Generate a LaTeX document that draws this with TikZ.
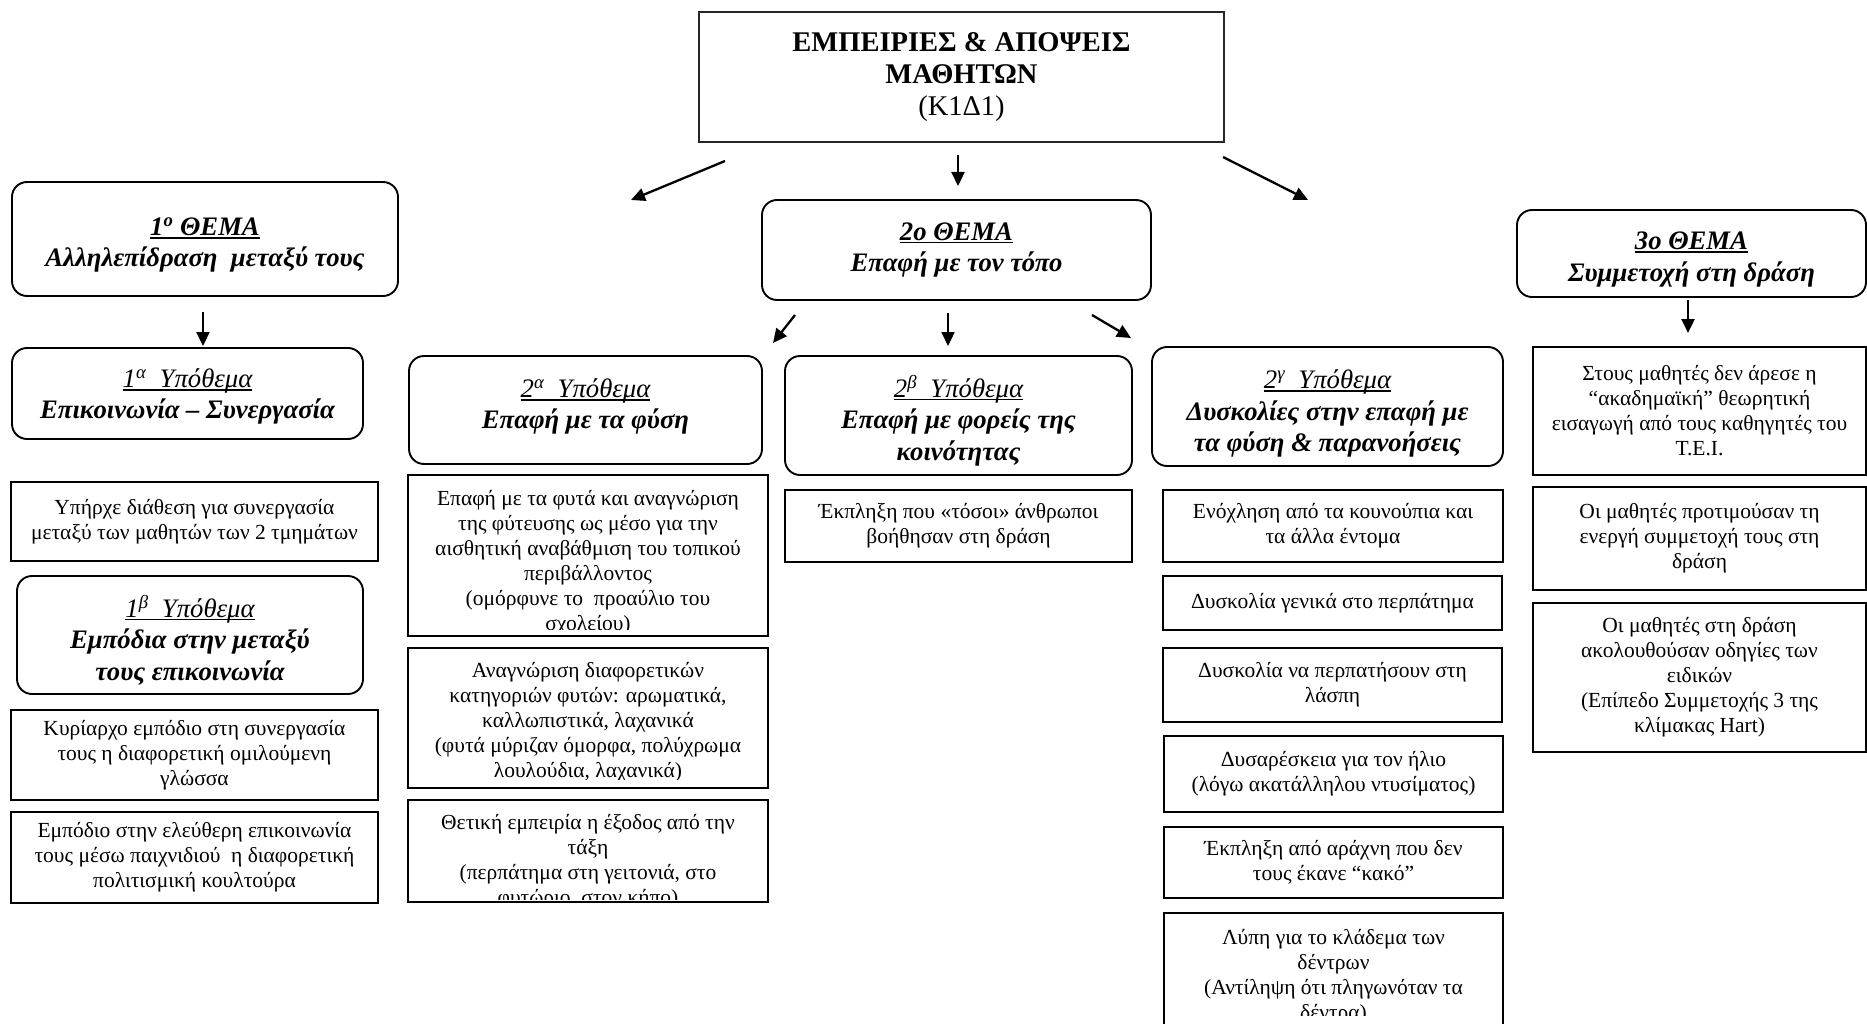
\documentclass[tikz,border=0pt]{standalone}
\usepackage{fontspec}
\setmainfont{Liberation Serif}
\usetikzlibrary{arrows.meta}

% font sizes for box texts and headings
\newcommand{\bodyfont}{\fontsize{21.5pt}{25pt}\selectfont}
\newcommand{\headfont}{\fontsize{26.7pt}{31.5pt}\selectfont}
\newcommand{\titlefont}{\fontsize{28.5pt}{32pt}\selectfont}
% heavier underline for headings
\newcommand{\hdul}[1]{\leavevmode\setbox0=\hbox{#1}\rlap{\rule[-0.12em]{\wd0}{0.065em}}\box0}

\tikzset{
  tbox/.style={draw, line width=1.9pt, rectangle, inner sep=0pt, align=center, font=\bodyfont},
  rbox/.style={draw, line width=1.9pt, rounded corners=15pt, inner sep=0pt},
  hdtext/.style={inner sep=0pt, align=center, font=\headfont\bfseries\itshape},
  txt/.style={inner sep=0pt, align=center, font=\bodyfont},
  arr/.style={line width=2.3pt, -{Triangle[length=14pt,width=13pt]}},
}

\begin{document}
\begin{tikzpicture}[x=1pt, y=-1pt]
\useasboundingbox (0,0) rectangle (1867,1024);
\clip (0,0) rectangle (1867,1024);

% ---- title ----
\node[draw, line width=1.5pt, black!85, text=black, inner sep=0pt, align=center, font=\titlefont,
      minimum width=525, minimum height=130] (top) at (961.5,77)
  {\textbf{ΕΜΠΕΙΡΙΕΣ \& ΑΠΟΨΕΙΣ}\\\textbf{ΜΑΘΗΤΩΝ}\\(Κ1Δ1)};

% ---- themes ----
\node[rbox, minimum width=386, minimum height=114,
      label={[name=th1t, hdtext, yshift=-6pt]center:{\hdul{1\textsuperscript{ο} ΘΕΜΑ}\\Αλληλεπίδραση\ \ μεταξύ τους}}]
  (th1) at (205,239) {};
\node[rbox, minimum width=389, minimum height=100,
      label={[name=th2t, hdtext, yshift=0pt]center:{\hdul{2ο ΘΕΜΑ}\\Επαφή με τον τόπο}}]
  (th2) at (956.5,250) {};
\node[rbox, minimum width=349, minimum height=87,
      label={[name=th3t, hdtext, yshift=-6pt]center:{\hdul{3ο ΘΕΜΑ}\\Συμμετοχή στη δράση}}]
  (th3) at (1691.5,253.5) {};

% ---- sub-themes ----
\node[rbox, minimum width=351, minimum height=91,
      label={[name=s1at, hdtext, yshift=-3pt]center:{{\mdseries\hdul{1\textsuperscript{α}\ \ Υπόθεμα}}\\Επικοινωνία – Συνεργασία}}]
  (s1a) at (187.5,393.5) {};
\node[rbox, minimum width=346, minimum height=118,
      label={[name=s1bt, hdtext, yshift=-5pt]center:{{\mdseries\hdul{1\textsuperscript{β}\ \ Υπόθεμα}}\\Εμπόδια στην μεταξύ\\τους επικοινωνία}}]
  (s1b) at (190,635) {};
\node[rbox, minimum width=353, minimum height=108,
      label={[name=s2at, hdtext, yshift=3.5pt]center:{{\mdseries\hdul{2\textsuperscript{α}\ \ Υπόθεμα}}\\Επαφή με τα φύση}}]
  (s2a) at (585.5,410) {};
\node[rbox, minimum width=347, minimum height=119,
      label={[name=s2bt, hdtext, yshift=-5pt]center:{{\mdseries\hdul{2\textsuperscript{β}\ \ Υπόθεμα}}\\Επαφή με φορείς της\\κοινότητας}}]
  (s2b) at (958.5,415.5) {};
\node[rbox, minimum width=351, minimum height=119,
      label={[name=s2gt, hdtext, yshift=-7pt]center:{{\mdseries\hdul{2\textsuperscript{γ}\ \ Υπόθεμα}}\\Δυσκολίες στην επαφή με\\τα φύση \& παρανοήσεις}}]
  (s2g) at (1327.5,406.5) {};

% ---- column 1 ----
\node[tbox, minimum width=367, minimum height=79] (a1) at (194.5,521.5)
  {Υπήρχε διάθεση για συνεργασία\\μεταξύ των μαθητών των 2 τμημάτων};
\node[tbox, minimum width=367, minimum height=90] (a2) at (194.5,755)
  {Κυρίαρχο εμπόδιο στη συνεργασία\\τους η διαφορετική ομιλούμενη\\γλώσσα};
\node[tbox, minimum width=367, minimum height=91] (a3) at (194.5,857.5)
  {Εμπόδιο στην ελεύθερη επικοινωνία\\τους μέσω παιχνιδιού\ \ η διαφορετική\\πολιτισμική κουλτούρα};

% ---- column 2 (texts cut off by their frames) ----
\node[tbox, minimum width=360, minimum height=161] (b1) at (588,555.5) {};
\begin{scope}
  \clip (408,475) rectangle (768,629);
  \node[txt, anchor=north] (b1t) at (588,490)
    {Επαφή με τα φυτά και αναγνώριση\\της φύτευσης ως μέσο για την\\αισθητική αναβάθμιση του τοπικού\\περιβάλλοντος\\(ομόρφυνε το\ \ προαύλιο του\\σχολείου)};
\end{scope}
\node[tbox, minimum width=360, minimum height=140] (b2) at (588,718) {};
\begin{scope}
  \clip (408,648) rectangle (768,779);
  \node[txt, anchor=north] (b2t) at (588,662)
    {Αναγνώριση διαφορετικών\\κατηγοριών φυτών: αρωματικά,\\καλλωπιστικά, λαχανικά\\(φυτά μύριζαν όμορφα, πολύχρωμα\\λουλούδια, λαχανικά)};
\end{scope}
\node[tbox, minimum width=360, minimum height=102] (b3) at (588,851) {};
\begin{scope}
  \clip (408,800) rectangle (768,899);
  \node[txt, anchor=north] (b3t) at (588,814)
    {Θετική εμπειρία η έξοδος από την\\τάξη\\(περπάτημα στη γειτονιά, στο\\φυτώριο, στον κήπο)};
\end{scope}

% ---- column 3 ----
\node[tbox, minimum width=347, minimum height=72] (e1) at (958.5,526)
  {Έκπληξη που «τόσοι» άνθρωποι\\βοήθησαν στη δράση};

% ---- column 4 ----
\node[tbox, minimum width=340, minimum height=72] (c1) at (1333,526)
  {Ενόχληση από τα κουνούπια και\\τα άλλα έντομα};
\node[tbox, minimum width=339, minimum height=54] (c2) at (1332.5,603)
  {Δυσκολία γενικά στο περπάτημα};
\node[tbox, minimum width=339, minimum height=74] (c3) at (1332.5,685)
  {Δυσκολία να περπατήσουν στη\\λάσπη};
\node[tbox, minimum width=339, minimum height=76] (c4) at (1333.5,774)
  {Δυσαρέσκεια για τον ήλιο\\(λόγω ακατάλληλου ντυσίματος)};
\node[tbox, minimum width=339, minimum height=71] (c5) at (1333.5,862.5)
  {Έκπληξη από αράχνη που δεν\\τους έκανε “κακό”};
\node[tbox, minimum width=339, minimum height=130] (c6) at (1333.5,978) {};
\begin{scope}
  \clip (1164,913) rectangle (1503,1015);
  \node[txt, anchor=north] (c6t) at (1333.5,929)
    {Λύπη για το κλάδεμα των\\δέντρων\\(Αντίληψη ότι πληγωνόταν τα\\δέντρα)};
\end{scope}

% ---- column 5 ----
\node[tbox, minimum width=333, minimum height=128] (d1) at (1699.5,411)
  {Στους μαθητές δεν άρεσε η\\“ακαδημαϊκή” θεωρητική\\εισαγωγή από τους καθηγητές του\\Τ.Ε.Ι.};
\node[tbox, minimum width=333, minimum height=103] (d2) at (1699.5,538.5)
  {Οι μαθητές προτιμούσαν τη\\ενεργή συμμετοχή τους στη\\δράση};
\node[tbox, minimum width=333, minimum height=149] (d3) at (1699.5,677.5)
  {Οι μαθητές στη δράση\\ακολουθούσαν οδηγίες των\\ειδικών\\(Επίπεδο Συμμετοχής 3 της\\κλίμακας Hart)};

% ---- free-standing arrows ----
\coordinate (t1s) at (725,161);   \coordinate (t1e) at (631,200);
\coordinate (t2s) at (958,155);   \coordinate (t2e) at (958,186);
\coordinate (t3s) at (1223,157);  \coordinate (t3e) at (1308,200);
\coordinate (u1s) at (203,312);   \coordinate (u1e) at (203,346);
\coordinate (v1s) at (795,315);   \coordinate (v1e) at (773,343);
\coordinate (v2s) at (948,313);   \coordinate (v2e) at (948,346);
\coordinate (v3s) at (1092,315);  \coordinate (v3e) at (1131,338);
\coordinate (w1s) at (1688,300);  \coordinate (w1e) at (1688,333);

\draw[arr] (t1s) -- (t1e);
\draw[arr] (t2s) -- (t2e);
\draw[arr] (t3s) -- (t3e);
\draw[arr] (u1s) -- (u1e);
\draw[arr] (v1s) -- (v1e);
\draw[arr] (v2s) -- (v2e);
\draw[arr] (v3s) -- (v3e);
\draw[arr] (w1s) -- (w1e);
\end{tikzpicture}
\end{document}
